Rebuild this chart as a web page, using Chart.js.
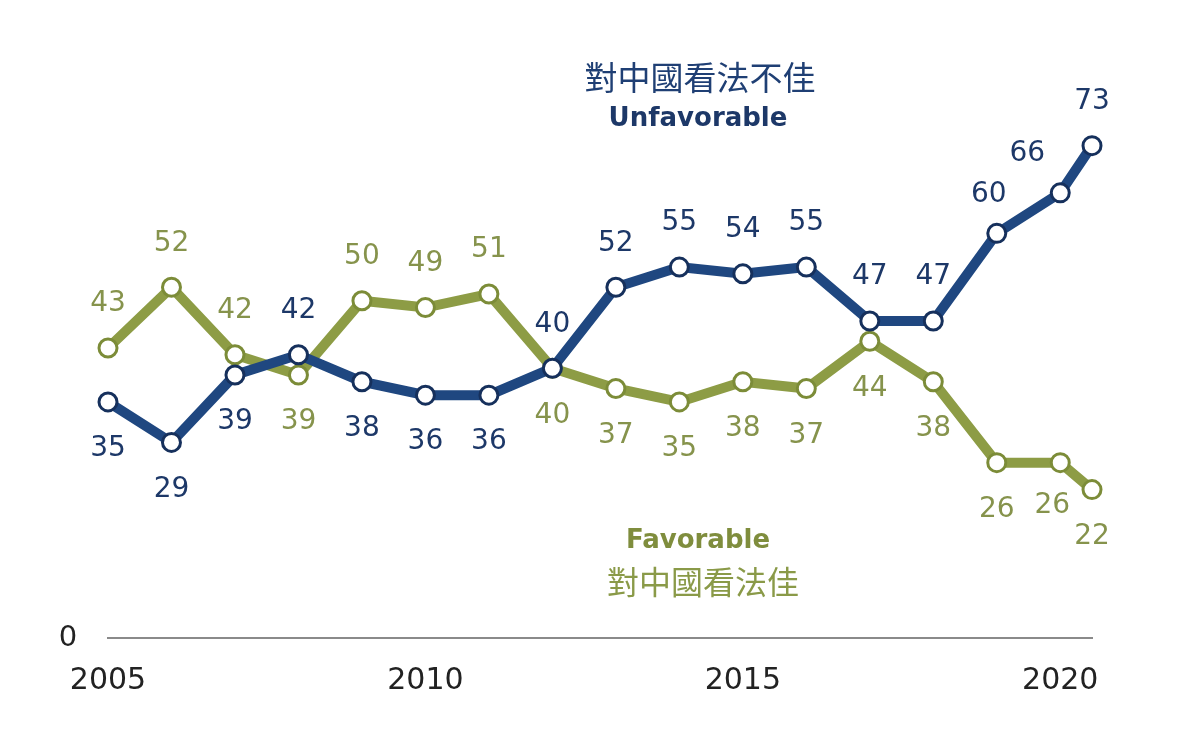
<!DOCTYPE html>
<html>
<head>
<meta charset="utf-8">
<script src="https://cdn.jsdelivr.net/npm/chart.js@4.4.1/dist/chart.umd.min.js"></script>
<style>
  html, body { margin: 0; padding: 0; background: #fff; }
  #wrap { width: 1200px; height: 738px; position: relative; }
</style>
</head>
<body>
<div id="wrap"><canvas id="grafica"></canvas></div>
<script>
// Años de la encuesta (el último es mediados de 2020)
const anios = [2005, 2006, 2007, 2008, 2009, 2010, 2011, 2012, 2013, 2014, 2015, 2016, 2017, 2018, 2019, 2020, 2020.5];
const desfavorable = [35, 29, 39, 42, 38, 36, 36, 40, 52, 55, 54, 55, 47, 47, 60, 66, 73];
const favorable = [43, 52, 42, 39, 50, 49, 51, 40, 37, 35, 38, 37, 44, 38, 26, 26, 22];
const ticksX = [2005, 2010, 2015, 2020];

// Posición de cada etiqueta: 'a' arriba, 'b' abajo, 'al' arriba a la izquierda
const posDesfav = ['b', 'b', 'b', 'a', 'b', 'b', 'b', 'a', 'a', 'a', 'a', 'a', 'a', 'a', 'al', 'al', 'a'];
const posFav = ['a', 'a', 'a', 'b', 'a', 'a', 'a', 'b', 'b', 'b', 'b', 'b', 'b', 'b', 'b', 'bl', 'b'];

const azul = '#1f4780';
const azulBorde = '#16305c';
const azulTexto = '#1d3868';
const oliva = '#8d9c45';
const olivaBorde = '#7c8c38';
const olivaTexto = '#86934c';
const fuente = '"DejaVu Sans", Verdana, sans-serif';

const puntos = (valores) => valores.map((v, i) => ({ x: anios[i], y: v }));

// Etiquetas de valores y textos del gráfico
const etiquetas = {
    id: 'etiquetas',
    afterDatasetsDraw(chart) {
        const ctx = chart.ctx;
        const xs = chart.scales.x;
        const ys = chart.scales.y;
        ctx.save();
        ctx.textAlign = 'center';
        ctx.textBaseline = 'middle';
        ctx.font = '28px ' + fuente;

        const dibujar = (valores, pos, color) => {
            ctx.fillStyle = color;
            valores.forEach((v, i) => {
                const px = xs.getPixelForValue(anios[i]);
                const py = ys.getPixelForValue(v);
                let dx = 0, dy = 0;
                if (pos[i] === 'a') dy = -44;
                if (pos[i] === 'b') dy = 47;
                if (pos[i] === 'al') { dx = -8; dy = -39; }
                if (pos[i] === 'bl') { dx = -8; dy = 43; }
                if (i === 15 && pos[i] === 'al') dx = -33;
                ctx.fillText(String(v), px + dx, py + dy);
            });
        };
        dibujar(favorable, posFav, olivaTexto);
        dibujar(desfavorable, posDesfav, azulTexto);

        // Cero del eje y
        ctx.fillStyle = '#222';
        ctx.font = '29px ' + fuente;
        ctx.fillText('0', 68, ys.getPixelForValue(0));

        // Títulos de las series
        ctx.fillStyle = '#1f3f74';
        ctx.font = '33px "Noto Sans CJK TC", sans-serif';
        ctx.fillText('對中國看法不佳', 700, 77);
        ctx.fillStyle = azulTexto;
        ctx.font = 'bold 26px ' + fuente;
        ctx.fillText('Unfavorable', 698, 119);

        ctx.fillStyle = '#7f8d3d';
        ctx.fillText('Favorable', 698, 541);
        ctx.fillStyle = '#8a9a48';
        ctx.font = '32px "Noto Sans CJK TC", sans-serif';
        ctx.fillText('對中國看法佳', 703, 582);
        ctx.restore();
    }
};

const ctx = document.getElementById('grafica').getContext('2d');
const grafica = new Chart(ctx, {
    type: 'line',
    data: {
        datasets: [
            {
                label: 'Unfavorable',
                data: puntos(desfavorable),
                borderColor: azul,
                borderWidth: 10,
                pointBackgroundColor: '#fff',
                pointBorderColor: azulBorde,
                pointBorderWidth: 3,
                pointRadius: 9,
                tension: 0,
                clip: false,
            },
            {
                label: 'Favorable',
                data: puntos(favorable),
                borderColor: oliva,
                borderWidth: 10,
                pointBackgroundColor: '#fff',
                pointBorderColor: olivaBorde,
                pointBorderWidth: 3,
                pointRadius: 9,
                tension: 0,
                clip: false,
            },
        ],
    },
    options: {
        responsive: true,
        maintainAspectRatio: false,
        animation: false,
        layout: { padding: { left: 108, right: 108, top: 31, bottom: 14 } },
        plugins: {
            legend: { display: false },
            tooltip: { enabled: false },
        },
        scales: {
            x: {
                type: 'linear',
                min: 2005,
                max: 2020.5,
                afterBuildTicks: (scale) => {
                    scale.ticks = ticksX.map(v => ({ value: v }));
                },
                ticks: {
                    includeBounds: false,
                    padding: 25,
                    color: '#222',
                    font: { family: fuente, size: 30 },
                    callback: (v) => String(v),
                    maxRotation: 0,
                },
                grid: { display: false, drawTicks: false },
                border: { display: true, color: '#8a8a8a', width: 2 },
            },
            y: {
                display: false,
                min: 0,
                max: 90,
            },
        },
    },
    plugins: [etiquetas],
});
</script>
</body>
</html>
